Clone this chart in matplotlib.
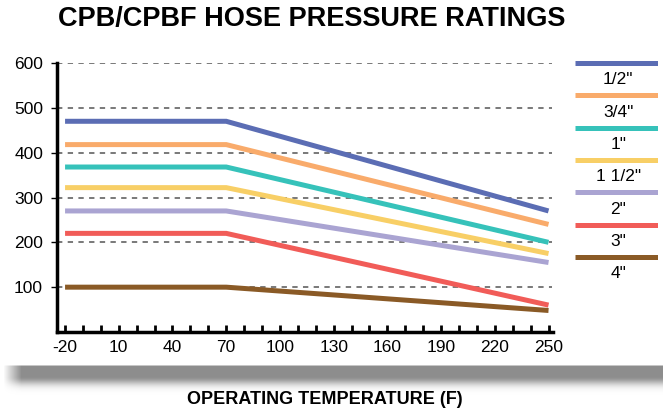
import numpy as np
import matplotlib
matplotlib.use("Agg")
import matplotlib.pyplot as plt
from matplotlib.ticker import MultipleLocator

# data
temps = [-20, 70, 250]
sizes = ['1/2"', '3/4"', '1"', '1 1/2"', '2"', '3"', '4"']
psi_half = [470, 470, 270]
psi_three_quarter = [418, 418, 240]
psi_one = [368, 368, 200]
psi_one_half = [322, 322, 175]
psi_two = [270, 270, 155]
psi_three = [220, 220, 60]
psi_four = [100, 100, 48]
x_ticks = [-20, 10, 40, 70, 100, 130, 160, 190, 220, 250]
y_ticks = [100, 200, 300, 400, 500, 600]

series = [psi_half, psi_three_quarter, psi_one, psi_one_half, psi_two, psi_three, psi_four]
colours = ['#5b6db4', '#f9ab6b', '#36c2ba', '#f8cf66', '#aaa4d2', '#f15c58', '#8a5a26']

plt.rcParams['font.family'] = ['Liberation Sans', 'DejaVu Sans']
plt.rcParams['axes.unicode_minus'] = False

fig = plt.figure(figsize=(6.63, 4.13), dpi=100)

# grey drop shadow under the plot
sh = fig.add_axes([0, 0, 1, 1], zorder=-5)
h, w = 413, 663
yy = np.arange(h)[:, None]
xx = np.arange(w)[None, :]
band = np.where(yy < 365, 0, np.exp(-((np.maximum(yy - 376, 0)) / 8.0) ** 2))
band = band * np.clip((yy - 364) / 2.0, 0, 1)
fade = np.clip((xx - 3) / 18.0, 0, 1)
alpha = 0.95 * band * fade
img = np.ones((h, w, 4))
img[..., :3] = 0.53
img[..., 3] = alpha
sh.imshow(img, extent=(0, w, h, 0), aspect='auto')
sh.set_xlim(0, w)
sh.set_ylim(h, 0)
sh.axis('off')

ax = fig.add_axes([57 / 663, (413 - 332) / 413, (553 - 57) / 663, (332 - 63) / 413])
for vals, c in zip(series, colours):
    ax.plot(temps, vals, color=c, lw=3.6, solid_capstyle='butt', solid_joinstyle='miter', zorder=3)

for yv in y_ticks:
    ax.plot([-24.5, 252], [yv, yv], color='#555555', lw=1.1, ls=(0, (3.5, 3.5)), zorder=1)

ax.set_xlim(-24.5, 252.5)
ax.set_ylim(0, 600)
ax.set_xticks(x_ticks)
ax.xaxis.set_minor_locator(MultipleLocator(10))
ax.set_yticks(y_ticks)
ax.tick_params(axis='x', which='both', direction='in', length=5, width=2, labelsize=12.5, pad=6)
ax.tick_params(axis='y', direction='out', length=4, width=1, labelsize=12.5, pad=6)
for s in ['top', 'right']:
    ax.spines[s].set_visible(False)
for s in ['left', 'bottom']:
    ax.spines[s].set_linewidth(2.5)

# legend: colour bar above each label
lg = fig.add_axes([575 / 663, 0, 83 / 663, 1])
lg.set_xlim(0, 1)
lg.set_ylim(413, 0)
lg.axis('off')
for i, (lab, c) in enumerate(zip(sizes, colours)):
    y0 = 63 + i * 32.3
    lg.plot([0, 1], [y0, y0], color=c, lw=3.6, solid_capstyle='butt')
    lg.text(0.52, y0 + 17, lab, ha='center', va='center', fontsize=12.5)

fig.text(0.47, 0.953, 'CPB/CPBF HOSE PRESSURE RATINGS', ha='center', va='center',
         fontsize=19.5, fontweight='bold')
fig.text(0.49, 0.033, 'OPERATING TEMPERATURE (F)', ha='center', va='center',
         fontsize=13, fontweight='bold')

fig.savefig('out.png', dpi=100)
